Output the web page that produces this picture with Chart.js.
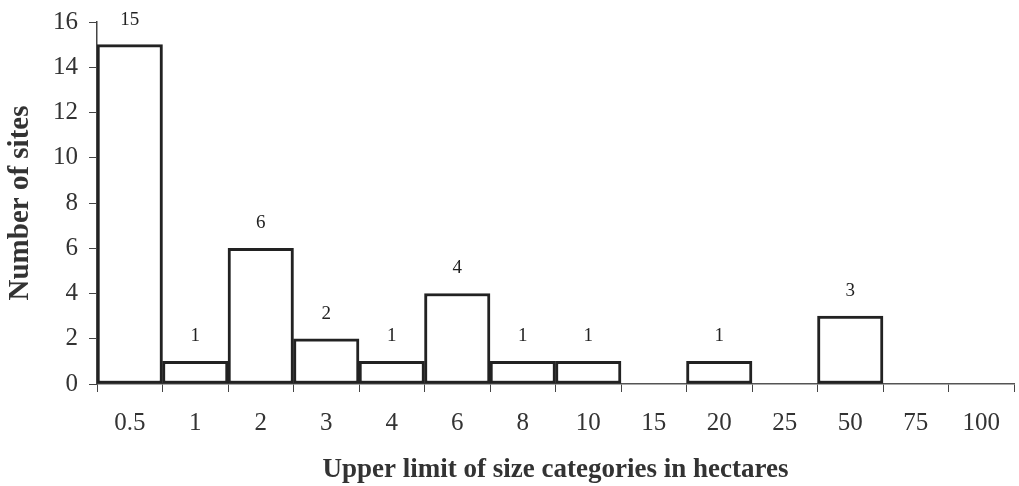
<!DOCTYPE html>
<html>
<head>
<meta charset="utf-8">
<script src="https://cdn.jsdelivr.net/npm/chart.js@4"></script>
<style>
html,body{margin:0;padding:0;background:#fff;}
#wrap{width:1019px;height:486px;position:relative;}
</style>
</head>
<body>
<div id="wrap"><canvas id="c" width="1019" height="486"></canvas></div>
<script>
const categories = ["0.5","1","2","3","4","6","8","10","15","20","25","50","75","100"];
const siteCounts = [15,1,6,2,1,4,1,1,0,1,0,3,0,0];
const yTicks = [0,2,4,6,8,10,12,14,16];

const serif = "'Liberation Serif','Times New Roman',serif";

const labelPlugin = {
  id: 'barLabels',
  afterDatasetsDraw(chart) {
    const ctx = chart.ctx;
    const meta = chart.getDatasetMeta(0);
    ctx.save();
    ctx.font = "19px " + serif;
    ctx.fillStyle = "#222";
    ctx.textAlign = "center";
    ctx.textBaseline = "middle";
    meta.data.forEach((bar, i) => {
      const v = siteCounts[i];
      if (v > 0) ctx.fillText(String(v), bar.x, bar.y - 25);
    });
    ctx.restore();
  }
};

new Chart(document.getElementById('c'), {
  type: 'bar',
  data: {
    labels: categories,
    datasets: [{
      data: siteCounts,
      backgroundColor: '#ffffff',
      borderColor: '#222222',
      borderWidth: 3,
      barPercentage: 1,
      categoryPercentage: 1,
      borderSkipped: false
    }]
  },
  options: {
    responsive: false,
    animation: false,
    events: [],
    layout: { padding: { top: 22, right: 5, left: 0, bottom: 0 } },
    plugins: { legend: { display: false }, tooltip: { enabled: false } },
    scales: {
      x: {
        offset: true,
        grid: { display: true, offset: true, drawOnChartArea: false, drawTicks: true, tickLength: 8, color: '#444', lineWidth: 1 },
        border: { display: true, color: '#555', width: 1.5 },
        ticks: { color: '#333', font: { family: serif, size: 25 }, padding: 16, maxRotation: 0, autoSkip: false },
        title: { display: true, text: 'Upper limit of size categories in hectares', color: '#333', font: { family: serif, size: 27, weight: 'bold' }, padding: { top: 8, bottom: 0 } },
        afterFit(scale) { scale.height = 102; scale.paddingLeft = 0; scale.paddingRight = 0; }
      },
      y: {
        min: 0, max: 16,
        afterBuildTicks(scale) { scale.ticks = yTicks.map(v => ({ value: v })); },
        grid: { display: true, drawOnChartArea: false, drawTicks: true, tickLength: 8, color: '#444', lineWidth: 1 },
        border: { display: true, color: '#444', width: 1.5 },
        ticks: { color: '#333', font: { family: serif, size: 25 }, padding: 11 },
        title: { display: true, text: 'Number of sites', color: '#333', font: { family: serif, size: 29, weight: 'bold' }, padding: { top: 3, bottom: 6 } },
        afterFit(scale) { scale.width = 97; scale.paddingTop = 0; scale.paddingBottom = 0; }
      }
    }
  },
  plugins: [labelPlugin]
});
</script>
</body>
</html>
